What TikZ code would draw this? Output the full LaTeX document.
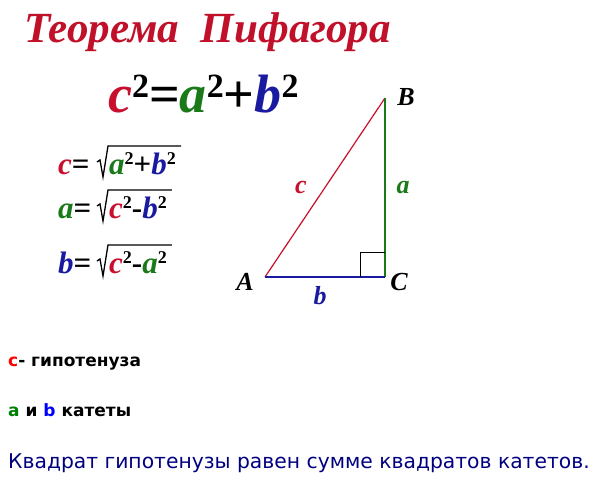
\documentclass[tikz,border=0pt]{standalone}
\usepackage{fontspec}
\setmainfont{Liberation Serif}
\newfontfamily\dvs{DejaVu Sans}
\definecolor{tred}{HTML}{C0102A}
\definecolor{fred}{HTML}{C8102E}
\definecolor{fgreen}{HTML}{1A7A1A}
\definecolor{fblue}{HTML}{1A1AA0}
\definecolor{nred}{HTML}{FF0000}
\definecolor{ngreen}{HTML}{008000}
\definecolor{nblue}{HTML}{0000FF}
\definecolor{navy}{HTML}{000080}
\newcommand{\vr}[2]{\textcolor{#1}{\bfseries\itshape #2}}
\newcommand{\bsq}{\raisebox{0.27em}{\fontsize{34}{34}\selectfont 2}}
\newcommand{\sq}[1]{\raisebox{0.3em}{\fontsize{18}{18}\selectfont\bfseries #1}}
\begin{document}
\begin{tikzpicture}[x=1pt,y=-1pt,
  lbl/.style={inner sep=0pt,anchor=base west},
  fml/.style={lbl,font=\fontsize{31}{31}\selectfont\bfseries},
  rad/.style={line width=1.3pt,line join=miter},
  vlbl/.style={inner sep=0pt,anchor=base,font=\fontsize{26}{26}\selectfont\bfseries\itshape}]
\useasboundingbox[fill=white] (0,0) rectangle (607,487);
\node[lbl,text=tred,font=\fontsize{43}{43}\selectfont\bfseries\itshape] (title) at (24,43) {Теорема\ \ Пифагора};
\node[lbl,font=\fontsize{54}{54}\selectfont\bfseries] (main) at (108,112)
  {\vr{fred}{c}\bsq=\vr{fgreen}{a}\bsq+\vr{fblue}{b}\bsq};
% small formulas
\node[fml] (l1) at (58,174) {\vr{fred}{c}=};
\node[fml] (r1) at (109,174) {\vr{fgreen}{a}\sq{2}+\vr{fblue}{b}\sq{2}};
\node[fml] (l2) at (58,218) {\vr{fgreen}{a}=};
\node[fml] (r2) at (109,218) {\vr{fred}{c}\sq{2}-\vr{fblue}{b}\sq{2}};
\node[fml] (l3) at (58,273) {\vr{fblue}{b}=};
\node[fml] (r3) at (109,273) {\vr{fred}{c}\sq{2}-\vr{fgreen}{a}\sq{2}};
\foreach \r in {r1,r2,r3}{
  \draw[rad] ([xshift=-12pt,yshift=12pt]\r.base west) -- ([xshift=-9pt,yshift=14pt]\r.base west)
    -- ([xshift=-6pt,yshift=-3pt]\r.base west) -- ([xshift=-1pt,yshift=28pt]\r.base west)
    -- ([xshift=5pt,yshift=28pt]\r.base east);
}
% triangle
\coordinate (A) at (265,277);
\coordinate (C) at (385,277);
\coordinate (B) at (385,98);
\draw[fred,line width=1.2pt] (A) -- (B);
\draw[fgreen,line width=1.2pt] (B) -- (C);
\draw[fblue,line width=1.2pt] (A) -- (C);
\draw[black,line width=1pt] (360,277) -- (360,252) -- (385,252);
\node[vlbl] (lB) at (406,105) {B};
\node[vlbl] (lA) at (245,290) {A};
\node[vlbl] (lC) at (399,290) {C};
\node[vlbl,text=fred] (lc) at (301,193) {c};
\node[vlbl,text=fgreen] (la) at (403,193) {a};
\node[vlbl,text=fblue] (lb) at (320,304) {b};
% notes
\node[lbl,font=\dvs\fontsize{17}{17}\selectfont\bfseries] (n1) at (8,366) {\textcolor{nred}{c}- гипотенуза};
\node[lbl,font=\dvs\fontsize{17}{17}\selectfont\bfseries] (n2) at (8,416) {\textcolor{ngreen}{a} и \textcolor{nblue}{b} катеты};
\node[lbl,font=\dvs\fontsize{20.3}{20.3}\selectfont,text=navy] (n3) at (8,468) {Квадрат гипотенузы равен сумме квадратов катетов.};
\end{tikzpicture}
\end{document}
